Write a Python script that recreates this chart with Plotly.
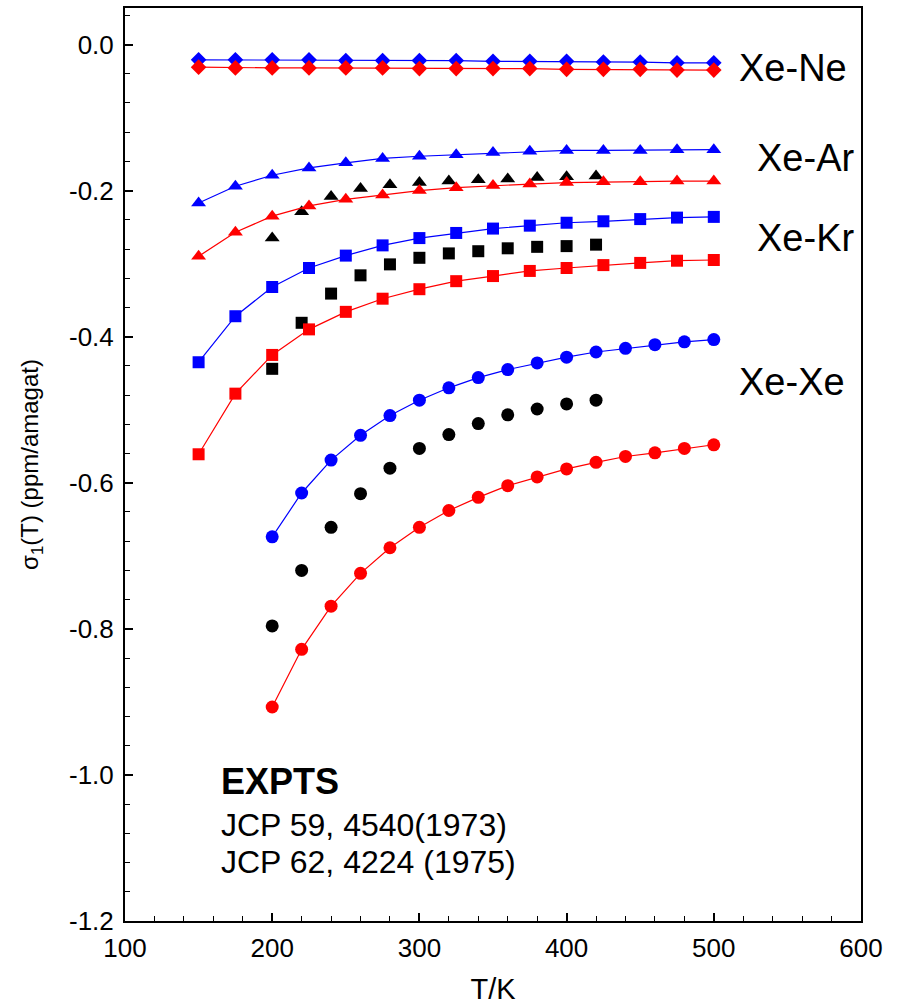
import plotly.graph_objects as go

# ---------------- data ----------------
T_model = [150, 175, 200, 225, 250, 275, 300, 325, 350, 375, 400, 425, 450, 475, 500]
T_xe = [200, 220, 240, 260, 280, 300, 320, 340, 360, 380, 400, 420, 440, 460, 480, 500]
T_exp = [200, 220, 240, 260, 280, 300, 320, 340, 360, 380, 400, 420]

ne_blue = [-0.021, -0.021, -0.021, -0.021, -0.022, -0.022, -0.022, -0.022, -0.023, -0.023,
           -0.023, -0.024, -0.024, -0.025, -0.025]
ne_red = [-0.031, -0.032, -0.032, -0.032, -0.032, -0.032, -0.033, -0.033, -0.033, -0.033,
          -0.034, -0.034, -0.034, -0.035, -0.035]

ar_blue = [-0.217, -0.194, -0.179, -0.169, -0.162, -0.156, -0.153, -0.151, -0.148, -0.146,
           -0.145, -0.145, -0.145, -0.144, -0.144]
ar_red = [-0.290, -0.257, -0.235, -0.221, -0.212, -0.206, -0.200, -0.196, -0.193, -0.191,
          -0.189, -0.188, -0.188, -0.187, -0.187]
ar_exp = [-0.265, -0.229, -0.208, -0.197, -0.192, -0.189, -0.187, -0.185, -0.184, -0.182,
          -0.181, -0.180]

kr_blue = [-0.435, -0.372, -0.332, -0.306, -0.289, -0.275, -0.265, -0.258, -0.252, -0.248,
           -0.244, -0.242, -0.239, -0.237, -0.236]
kr_red = [-0.561, -0.478, -0.425, -0.390, -0.366, -0.348, -0.335, -0.324, -0.317, -0.310,
          -0.306, -0.302, -0.299, -0.296, -0.295]
kr_exp = [-0.444, -0.381, -0.341, -0.316, -0.301, -0.292, -0.286, -0.283, -0.279, -0.277,
          -0.276, -0.274]

xe_blue = [-0.674, -0.614, -0.569, -0.535, -0.508, -0.487, -0.470, -0.456, -0.445, -0.436,
           -0.428, -0.421, -0.416, -0.411, -0.407, -0.404]
xe_red = [-0.907, -0.828, -0.769, -0.724, -0.689, -0.661, -0.638, -0.620, -0.604, -0.592,
          -0.581, -0.572, -0.564, -0.559, -0.553, -0.548]
xe_exp = [-0.796, -0.720, -0.661, -0.615, -0.580, -0.553, -0.534, -0.519, -0.507, -0.499,
          -0.492, -0.487]

x_ticks = [100, 200, 300, 400, 500, 600]
y_ticks = [0.0, -0.2, -0.4, -0.6, -0.8, -1.0, -1.2]
y_tick_labels = ["0.0", "-0.2", "-0.4", "-0.6", "-0.8", "-1.0", "-1.2"]

pair_labels = ["Xe-Ne", "Xe-Ar", "Xe-Kr", "Xe-Xe"]
expt_lines = ["JCP 59, 4540(1973)", "JCP 62, 4224 (1975)"]

BLUE = "#0000FF"
RED = "#FF0000"
BLACK = "#000000"
FONT = "Liberation Sans, Arial, sans-serif"

SIZES = {"diamond": 12, "triangle-up": 13, "square": 12, "circle": 13}

fig = go.Figure()

# experimental points (drawn first, underneath)
for name, y, sym in [("Xe-Ar expt", ar_exp, "triangle-up"),
                     ("Xe-Kr expt", kr_exp, "square"),
                     ("Xe-Xe expt", xe_exp, "circle")]:
    fig.add_trace(go.Scatter(x=T_exp, y=y, mode="markers", name=name,
                             marker=dict(symbol=sym, size=SIZES[sym], color=BLACK)))

# model curves
series = [
    ("Xe-Ne blue", T_model, ne_blue, BLUE, "diamond"),
    ("Xe-Ne red", T_model, ne_red, RED, "diamond"),
    ("Xe-Ar blue", T_model, ar_blue, BLUE, "triangle-up"),
    ("Xe-Ar red", T_model, ar_red, RED, "triangle-up"),
    ("Xe-Kr blue", T_model, kr_blue, BLUE, "square"),
    ("Xe-Kr red", T_model, kr_red, RED, "square"),
    ("Xe-Xe blue", T_xe, xe_blue, BLUE, "circle"),
    ("Xe-Xe red", T_xe, xe_red, RED, "circle"),
]
for name, x, y, col, sym in series:
    fig.add_trace(go.Scatter(x=x, y=y, mode="lines+markers", name=name,
                             line=dict(color=col, width=1.2),
                             marker=dict(symbol=sym, size=SIZES[sym], color=col)))

# pair labels
label_pos = [(516, -0.0315), (528, -0.1548), (528, -0.2644), (516, -0.4616)]
for txt, (lx, ly) in zip(pair_labels, label_pos):
    fig.add_annotation(x=lx, y=ly, xref="x", yref="y", text=txt, showarrow=False,
                       xanchor="left", yanchor="middle",
                       font=dict(family=FONT, size=38, color=BLACK))

# EXPTS block
fig.add_annotation(x=164, y=-1.0096, xref="x", yref="y", text="<b>EXPTS</b>",
                   showarrow=False, xanchor="left", yanchor="middle",
                   font=dict(family=FONT, size=36, color=BLACK))
for txt, ly in zip(expt_lines, [-1.0685, -1.119]):
    fig.add_annotation(x=164, y=ly, xref="x", yref="y", text=txt,
                       showarrow=False, xanchor="left", yanchor="middle",
                       font=dict(family=FONT, size=32, color=BLACK))

fig.update_layout(
    width=898, height=1005,
    margin=dict(l=125, r=37, t=8, b=84, pad=0),
    paper_bgcolor="white", plot_bgcolor="white",
    showlegend=False,
    font=dict(family=FONT, color=BLACK),
)

fig.update_xaxes(
    range=[100, 600], tickvals=x_ticks, ticktext=[str(v) for v in x_ticks],
    showgrid=False, zeroline=False, automargin=False,
    showline=True, linecolor=BLACK, linewidth=2, mirror=True,
    ticks="inside", ticklen=8, tickwidth=1.5, tickcolor=BLACK,
    minor=dict(ticks="inside", ticklen=5, tickwidth=1.2, tickcolor=BLACK, dtick=20, showgrid=False),
    tickfont=dict(family=FONT, size=26, color=BLACK),
    ticklabelstandoff=3,
    title=dict(text="T/K", font=dict(family=FONT, size=29, color=BLACK), standoff=22),
)
fig.update_yaxes(
    range=[-1.2, 0.05], tickvals=y_ticks, ticktext=y_tick_labels,
    showgrid=False, zeroline=False, automargin=False,
    showline=True, linecolor=BLACK, linewidth=2, mirror=True,
    ticks="inside", ticklen=8, tickwidth=1.5, tickcolor=BLACK,
    minor=dict(ticks="inside", ticklen=5, tickwidth=1.2, tickcolor=BLACK, dtick=0.04,
               tick0=0, showgrid=False),
    tickfont=dict(family=FONT, size=26, color=BLACK),
    ticklabelstandoff=4,
    title=dict(text="σ<sub>1</sub>(T) (ppm/amagat)", font=dict(family=FONT, size=24, color=BLACK),
               standoff=24),
)

fig.write_html("out.html")
